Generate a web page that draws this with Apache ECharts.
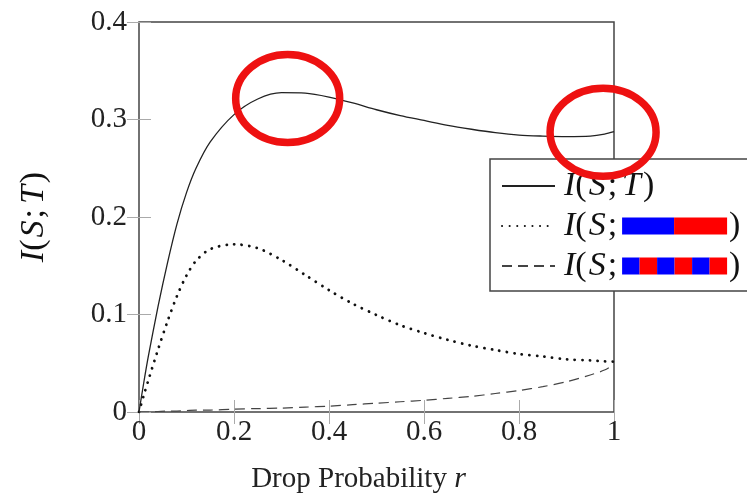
<!DOCTYPE html>
<html>
<head>
<meta charset="utf-8">
<script src="https://cdn.jsdelivr.net/npm/echarts@6/dist/echarts.min.js"></script>
<style>html,body{margin:0;padding:0;background:#fff}#c{width:747px;height:499px}</style>
</head>
<body>
<div id="c"></div>
<script>
// r values (x axis)
var rValues = [0,0.01,0.02,0.04,0.06,0.08,0.1,0.12,0.15,0.2,0.25,0.3,0.35,0.4,0.45,0.5,0.55,0.6,0.65,0.7,0.75,0.8,0.85,0.9,0.95,0.98,1];
// I(S;T)
var miST = [0,0.030,0.058,0.108,0.153,0.193,0.225,0.250,0.277,0.305,0.321,0.3275,0.327,0.323,0.317,0.310,0.304,0.299,0.294,0.290,0.2865,0.284,0.283,0.2825,0.283,0.285,0.2875];
// I(S; two-block)
var miBlock2 = [0,0.017,0.033,0.064,0.093,0.119,0.140,0.155,0.167,0.172,0.168,0.156,0.1405,0.125,0.111,0.0995,0.089,0.081,0.074,0.068,0.0636,0.0595,0.057,0.054,0.053,0.052,0.0516];
// I(S; alternating blocks)
var miBlock6 = [0,0,0,0.0005,0.001,0.001,0.0015,0.002,0.002,0.003,0.0035,0.004,0.005,0.006,0.0075,0.009,0.0105,0.012,0.014,0.016,0.019,0.022,0.026,0.031,0.038,0.043,0.049];
var xTicks = {min:0, max:1, interval:0.2};
var yTicks = {min:0, max:0.4, interval:0.1};
// annotation ellipse centres in data coordinates
var marks = [[0.313,0.3215],[0.977,0.287]];

function pairs(ys){ return rValues.map(function(x,i){ return [x, ys[i]]; }); }

var serif = 'Liberation Serif';
var blue = '#0000ff', red = '#ff0000';
var mathFs = 34;
var richCommon = {
  it:{fontFamily:serif, fontStyle:'italic', fontSize:mathFs, color:'#111'},
  rm:{fontFamily:serif, fontSize:mathFs, color:'#111'},
  sc:{fontFamily:serif, fontSize:mathFs, color:'#111', padding:[0,5,0,2]},
  pl:{fontFamily:serif, fontSize:mathFs, color:'#111', padding:[0,2,0,0]},
  pr:{fontFamily:serif, fontSize:mathFs, color:'#111', padding:[0,0,0,2]},
  b2:{backgroundColor:blue, width:52, height:17},
  r2:{backgroundColor:red, width:53, height:17},
  b6:{backgroundColor:blue, width:17.5, height:17},
  r6:{backgroundColor:red, width:17.5, height:17}
};
var labels = {
  'ST': '{it|I}{pl|(}{it|S}{sc|;}{it|T}{pr|)}',
  'B2': '{it|I}{pl|(}{it|S}{sc|;}{b2| }{r2| }{pr|)}',
  'B6': '{it|I}{pl|(}{it|S}{sc|;}{b6| }{r6| }{b6| }{r6| }{b6| }{r6| }{pr|)}'
};

var chart = echarts.init(document.getElementById('c'), null, {renderer:'canvas'});
var tickStyle = {show:true, inside:true, length:12, lineStyle:{color:'#aaa', width:1}};
var option = {
  animation:false,
  backgroundColor:'#fff',
  grid:{left:139, right:133, top:22, bottom:87, outerBoundsMode:'none', containLabel:false,
        show:true, borderColor:'#444', borderWidth:1.5, backgroundColor:'transparent'},
  xAxis:[{
    type:'value', min:xTicks.min, max:xTicks.max, interval:xTicks.interval, position:'bottom',
    axisLine:{show:false}, splitLine:{show:false}, axisTick:tickStyle,
    axisLabel:{fontFamily:serif, fontSize:29, color:'#222', margin:6},
    name:'Drop Probability {it|r}', nameLocation:'middle', nameGap:52,
    nameTextStyle:{fontFamily:serif, fontSize:29, color:'#222', padding:[0,36,0,0],
      rich:{it:{fontFamily:serif, fontStyle:'italic', fontSize:30, color:'#222'}}}
  },{
    type:'value', min:xTicks.min, max:xTicks.max, interval:xTicks.interval, position:'top',
    axisLine:{show:false}, splitLine:{show:false}, axisTick:tickStyle, axisLabel:{show:false}
  }],
  yAxis:[{
    type:'value', min:yTicks.min, max:yTicks.max, interval:yTicks.interval, position:'left',
    axisLine:{show:false}, splitLine:{show:false}, axisTick:tickStyle,
    axisLabel:{fontFamily:serif, fontSize:29, color:'#222', margin:12},
    name:'{it|I}{pl|(}{it|S}{sc|;}{it|T}{pr|)}', nameLocation:'middle', nameGap:88, nameRotate:90,
    nameTextStyle:{fontFamily:serif, fontSize:mathFs, color:'#111', rich:richCommon}
  },{
    type:'value', min:yTicks.min, max:yTicks.max, interval:yTicks.interval, position:'right',
    axisLine:{show:false}, splitLine:{show:false}, axisTick:tickStyle, axisLabel:{show:false}
  }],
  legend:{
    orient:'vertical', left:490, top:159, align:'left',
    padding:[10,40,8,11], itemGap:6, itemWidth:53, itemHeight:14,
    borderColor:'#444', borderWidth:1.5, backgroundColor:'#fff',
    itemStyle:{color:'rgba(0,0,0,0)', borderColor:'rgba(0,0,0,0)', borderWidth:0},
    formatter:function(n){ return labels[n]; },
    textStyle:{fontFamily:serif, fontSize:mathFs, color:'#111', rich:richCommon, padding:[0,0,0,4], lineHeight:34},
    data:['ST','B2','B6']
  },
  series:[
    {name:'ST', type:'line', data:pairs(miST), smooth:0.3, showSymbol:false, symbol:'none',
     lineStyle:{color:'#222', width:1.3}, itemStyle:{color:'#222'}, z:3},
    {name:'B2', type:'line', data:pairs(miBlock2), smooth:0.3, showSymbol:false, symbol:'none',
     lineStyle:{color:'#111', width:2.8, type:[0.1,7.5], cap:'round'}, itemStyle:{color:'#111'}, z:3},
    {name:'B6', type:'line', data:pairs(miBlock6), smooth:0.3, showSymbol:false, symbol:'none',
     lineStyle:{color:'#444', width:1.2, type:[10,6]}, itemStyle:{color:'#444'}, z:3}
  ]
};
chart.setOption(option);

// red annotation ellipses, anchored to data coordinates
var ellipseSize = [[52,44],[53,44]];
var graphics = marks.map(function(m, i){
  var p = chart.convertToPixel({xAxisIndex:0, yAxisIndex:0}, m);
  return {type:'ellipse', z:100, shape:{cx:p[0], cy:p[1], rx:ellipseSize[i][0], ry:ellipseSize[i][1]},
          style:{fill:null, stroke:'#ee1111', lineWidth:7.5}};
});
chart.setOption({graphic:graphics});
</script>
</body>
</html>
